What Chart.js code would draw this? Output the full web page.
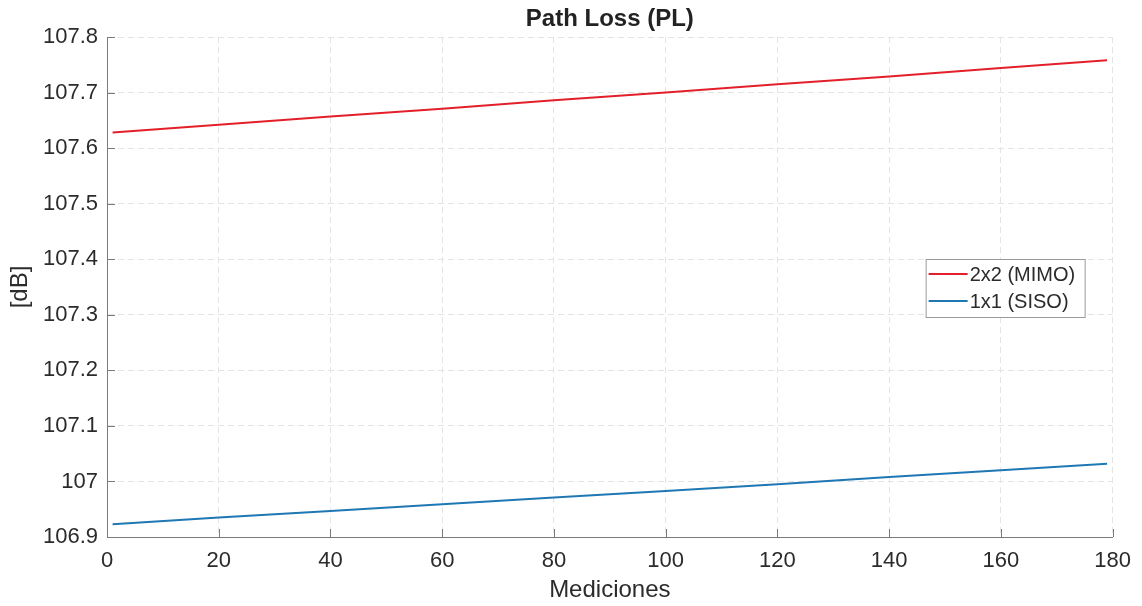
<!DOCTYPE html>
<html>
<head>
<meta charset="utf-8">
<script src="https://cdn.jsdelivr.net/npm/chart.js@4"></script>
<style>
  html, body { margin: 0; padding: 0; background: #fff; }
  #wrap { width: 1142px; height: 606px; }
</style>
</head>
<body>
<div id="wrap"><canvas id="pl"></canvas></div>
<script>
// measurement index and path loss per configuration [dB]
const mediciones = [1, 20, 40, 60, 80, 100, 120, 140, 160, 179];
const plMimo = [107.628, 107.642, 107.657, 107.671, 107.686, 107.700, 107.715, 107.729, 107.744, 107.758];
const plSiso = [106.923, 106.935, 106.947, 106.959, 106.971, 106.983, 106.995, 107.008, 107.020, 107.032];
const xTicks = [0, 20, 40, 60, 80, 100, 120, 140, 160, 180];
const yTicks = [106.9, 107, 107.1, 107.2, 107.3, 107.4, 107.5, 107.6, 107.7, 107.8];
const titulo = 'Path Loss (PL)';

const FONT = '"Liberation Sans", Arial, Helvetica, sans-serif';
const TXT = '#2b2b2b';
const AXIS = '#7a7a7a';

// matlab style: title centred on the axes, ticks drawn inside, legend box at the east side
const matlabAxes = {
	id: 'matlabAxes',
	afterDatasetsDraw(chart) {
		const {ctx, chartArea: a, scales: {x, y}} = chart;
		ctx.save();
		ctx.strokeStyle = AXIS;
		ctx.lineWidth = 1;
		ctx.beginPath();
		xTicks.forEach(v => {
			const px = Math.round(x.getPixelForValue(v)) + 0.5;
			ctx.moveTo(px, a.bottom);
			ctx.lineTo(px, a.bottom - 8);
		});
		yTicks.forEach(v => {
			const py = Math.round(y.getPixelForValue(v)) + 0.5;
			ctx.moveTo(a.left, py);
			ctx.lineTo(a.left + 8, py);
		});
		ctx.stroke();

		// title
		ctx.fillStyle = '#222';
		ctx.font = 'bold 24px ' + FONT;
		ctx.textAlign = 'center';
		ctx.textBaseline = 'middle';
		ctx.fillText(titulo, (a.left + a.right) / 2, 19);

		// legend
		const w = 159, h = 58;
		const bx = a.right - 28 - w;
		const by = Math.round((a.top + a.bottom) / 2 - h / 2 + 1);
		ctx.fillStyle = '#fff';
		ctx.fillRect(bx, by, w, h);
		ctx.strokeStyle = '#9a9a9a';
		ctx.strokeRect(bx + 0.5, by + 0.5, w, h);
		ctx.font = '20px ' + FONT;
		ctx.textAlign = 'left';
		chart.data.datasets.forEach((ds, i) => {
			const ly = by + 15 + i * 27;
			ctx.strokeStyle = ds.borderColor;
			ctx.lineWidth = 2;
			ctx.beginPath();
			ctx.moveTo(bx + 3, ly);
			ctx.lineTo(bx + 42, ly);
			ctx.stroke();
			ctx.fillStyle = TXT;
			ctx.fillText(ds.label, bx + 44, ly + 1);
		});
		ctx.restore();
	}
};

new Chart(document.getElementById('pl'), {
	type: 'line',
	data: {
		datasets: [
			{
				label: '2x2 (MIMO)',
				data: mediciones.map((m, i) => ({x: m, y: plMimo[i]})),
				borderColor: '#e3202a',
				borderWidth: 2,
				pointRadius: 0,
				tension: 0
			},
			{
				label: '1x1 (SISO)',
				data: mediciones.map((m, i) => ({x: m, y: plSiso[i]})),
				borderColor: '#1f77b4',
				borderWidth: 2,
				pointRadius: 0,
				tension: 0
			}
		]
	},
	options: {
		responsive: true,
		maintainAspectRatio: false,
		animation: false,
		layout: {padding: {left: 0, right: 29, top: 37, bottom: 0}},
		plugins: {
			legend: {display: false},
			tooltip: {enabled: false},
			title: {display: false}
		},
		scales: {
			x: {
				type: 'linear',
				min: 0,
				max: 180,
				afterBuildTicks: s => { s.ticks = xTicks.map(v => ({value: v})); },
				afterFit: s => { s.height = 69; },
				grid: {color: '#e4e4e4', drawTicks: false},
				border: {color: AXIS, width: 1, dash: [6, 4]},
				ticks: {color: TXT, font: {family: FONT, size: 22}, padding: 11, maxRotation: 0},
				title: {
					display: true,
					text: 'Mediciones',
					color: TXT,
					font: {family: FONT, size: 24},
					padding: {top: 0, bottom: 1}
				}
			},
			y: {
				type: 'linear',
				min: 106.9,
				max: 107.8,
				afterBuildTicks: s => { s.ticks = yTicks.map(v => ({value: v})); },
				afterFit: s => { s.width = 107; },
				grid: {color: '#e4e4e4', drawTicks: false},
				border: {color: AXIS, width: 1, dash: [6, 4]},
				ticks: {
					color: TXT,
					font: {family: FONT, size: 22},
					padding: 9,
					callback: v => String(+v.toFixed(1))
				},
				title: {
					display: true,
					text: '[dB]',
					color: TXT,
					font: {family: FONT, size: 24},
					padding: {top: 6, bottom: 0}
				}
			}
		}
	},
	plugins: [matlabAxes]
});
</script>
</body>
</html>
